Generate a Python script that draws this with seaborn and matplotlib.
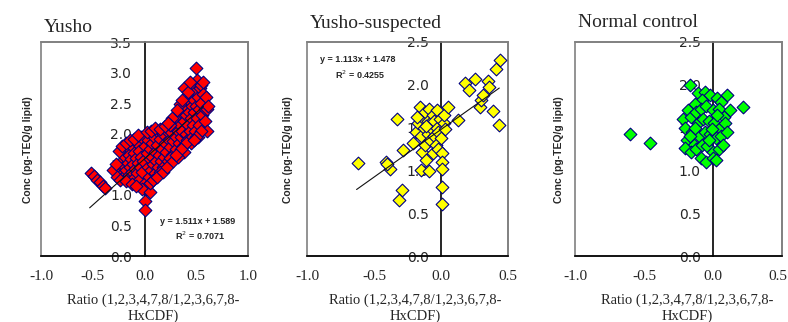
import numpy as np
import pandas as pd
import matplotlib
matplotlib.use("Agg")
import matplotlib.pyplot as plt
import matplotlib.transforms as mtransforms
from matplotlib.patches import Rectangle
import seaborn as sns

# ---------------- data ----------------
titles = ["Yusho", "Yusho-suspected", "Normal control"]

yusho_x = [-0.52, -0.49, -0.46, -0.43, -0.40, -0.38,
           -0.25, -0.24, -0.22, -0.21, -0.20, -0.19, -0.18, -0.17, -0.16, -0.15, -0.15, -0.14, -0.13, -0.12,
           -0.12, -0.11, -0.10, -0.10, -0.09, -0.08, -0.07, -0.07, -0.06, -0.05, -0.05, -0.04, -0.03, -0.03,
           -0.02, -0.01, 0.00, 0.00, 0.00, 0.00, 0.01, 0.02, 0.02, 0.03, 0.03, 0.04, 0.05, 0.05, 0.06, 0.07,
           0.07, 0.08, 0.09, 0.10, 0.10, 0.11, 0.12, 0.12, 0.13, 0.14, 0.15, 0.16, 0.17, 0.18, 0.18, 0.19,
           0.20, 0.21, 0.22, 0.23, 0.24, 0.25, 0.26, 0.27, 0.28, 0.29, 0.30, 0.30, 0.31, 0.32, 0.33, 0.34,
           0.35, 0.35, 0.36, 0.37, 0.38, 0.39, 0.40, 0.40, 0.41, 0.42, 0.42, 0.43, 0.44, 0.45, 0.45, 0.46,
           0.46, 0.47, 0.47, 0.48, 0.48, 0.49, 0.50, 0.50, 0.50, 0.51, 0.51, 0.52, 0.53, 0.53, 0.54, 0.55,
           0.55, 0.56, 0.57, 0.58, 0.60, 0.52, 0.45, 0.38, 0.15, 0.25, -0.02, 0.05,
           0.38, 0.42, 0.44, 0.57, 0.59, 0.61, 0.34, 0.36, 0.31, 0.27, 0.25, 0.58, 0.60, 0.55, 0.50, 0.40,
           0.48, -0.25, -0.22, -0.18, -0.14, -0.10, -0.06, 0.02, 0.06, 0.10, 0.15, 0.20, 0.23,
           -0.30, -0.28, -0.27, -0.24, -0.18, -0.12, -0.08, 0.05, 0.08, 0.12, 0.18, 0.22, 0.28, 0.32,
           0.35, 0.30]
yusho_y = [1.36, 1.31, 1.25, 1.21, 1.15, 1.12,
           1.45, 1.38, 1.55, 1.30, 1.48, 1.62, 1.40, 1.75, 1.52, 1.33, 1.66, 1.45, 1.58, 1.38,
           1.80, 1.50, 1.68, 1.28, 1.42, 1.60, 1.85, 1.35, 1.52, 1.72, 1.25, 1.45, 1.95, 1.62,
           1.38, 1.55, 1.80, 1.20, 0.90, 0.75, 1.10, 1.15, 1.68, 1.45, 1.90, 1.30, 1.58, 1.75, 1.40, 1.85,
           1.62, 1.50, 1.95, 1.35, 1.70, 1.55, 1.82, 2.05, 1.45, 1.65, 1.92, 1.55, 1.75, 2.00, 1.45, 1.62,
           1.85, 1.70, 2.05, 1.55, 1.90, 1.78, 2.02, 1.65, 1.88, 2.10, 1.95, 1.75, 2.25, 2.05, 1.85, 2.15,
           1.95, 2.35, 2.05, 1.80, 2.20, 2.45, 2.00, 2.30, 1.90, 2.55, 2.15, 2.35, 2.05, 2.65, 2.25, 2.45,
           1.95, 2.80, 2.15, 2.55, 2.35, 2.05, 2.70, 2.45, 3.08, 2.88, 2.25, 2.60, 2.40, 2.15, 2.75, 2.80,
           2.50, 2.30, 2.65, 2.40, 2.40, 1.95, 1.85, 1.70, 1.38, 1.60, 1.10, 1.05,
           2.75, 2.68, 2.85, 2.85, 2.60, 2.45, 2.48, 2.55, 2.38, 2.25, 2.15, 2.20, 2.05, 2.05, 1.95, 1.85,
           1.90, 1.72, 1.80, 1.85, 1.90, 1.92, 1.98, 2.02, 2.05, 2.10, 2.08, 2.12, 2.18,
           1.40, 1.50, 1.30, 1.25, 1.22, 1.18, 1.15, 1.20, 1.25, 1.30, 1.38, 1.45, 1.55, 1.62,
           1.75, 1.65]

susp_x = [-0.62, -0.41, -0.38, -0.40, -0.29, -0.31, -0.33, -0.28, -0.21, -0.19, -0.17, -0.16, -0.15,
          -0.15, -0.14, -0.14, -0.13, -0.12, -0.12, -0.11, -0.10, -0.10, -0.09, -0.09, -0.08, -0.08,
          -0.07, -0.06, -0.06, -0.05, -0.05, -0.04, -0.03, -0.03, -0.02, -0.02, -0.01, 0.00, 0.01, 0.01,
          0.01, 0.01, 0.01, 0.02, 0.02, 0.03, 0.05, 0.13, 0.18, 0.21, 0.25, 0.29, 0.30, 0.31, 0.35, 0.36,
          0.39, 0.41, 0.44, 0.435, -0.18, -0.11]
susp_y = [1.09, 1.10, 1.02, 1.07, 0.77, 0.66, 1.60, 1.24, 1.32, 1.45, 1.55, 1.74, 1.40,
          1.00, 1.62, 1.22, 1.50, 1.30, 1.68, 1.12, 1.58, 1.42, 0.99, 1.72, 1.35, 1.55,
          1.48, 1.65, 1.20, 1.40, 1.58, 1.30, 1.50, 1.70, 1.45, 1.25, 1.60, 1.38, 1.20, 1.10,
          1.02, 0.81, 0.61, 1.55, 1.65, 1.48, 1.74, 1.59, 2.02, 1.94, 2.07, 1.74, 1.82, 1.88, 2.04, 1.98,
          1.69, 2.19, 2.29, 1.53, 1.62, 1.52]

ctrl_x = [-0.60, -0.46, 0.22, -0.17, -0.11, -0.06, -0.02, 0.03, 0.10, 0.06, -0.08, -0.13, -0.18, -0.22,
          -0.20, -0.16, -0.12, -0.09, -0.05, 0.00, 0.04, 0.08, 0.12, -0.15, -0.11, -0.07, -0.03, 0.01,
          0.05, 0.09, -0.19, -0.14, -0.10, -0.06, -0.02, 0.02, 0.06, -0.20, -0.16, -0.12, -0.08, -0.04,
          0.00, 0.04, -0.09, -0.05, 0.00, 0.02, -0.03, 0.03, -0.01, -0.13, 0.07, -0.17, 0.10]
ctrl_y = [1.42, 1.32, 1.74, 2.00, 1.90, 1.92, 1.88, 1.85, 1.88, 1.80, 1.82, 1.78, 1.70, 1.60,
          1.50, 1.62, 1.68, 1.72, 1.75, 1.70, 1.72, 1.62, 1.70, 1.45, 1.55, 1.60, 1.58, 1.55,
          1.50, 1.55, 1.35, 1.30, 1.40, 1.45, 1.42, 1.38, 1.40, 1.26, 1.22, 1.25, 1.30, 1.28,
          1.22, 1.25, 1.15, 1.10, 1.15, 1.12, 1.35, 1.65, 1.48, 1.50, 1.30, 1.40, 1.45]

# regression results printed on the chart
fit_slope = [1.511, 1.113, None]
fit_icpt = [1.589, 1.478, None]
fit_r2 = ["0.7071", "0.4255", None]
fit_xrange = [(-0.53, 0.57), (-0.63, 0.435), None]

xlims = [(-1.0, 1.0), (-1.0, 0.5), (-1.0, 0.5)]
ylims = [(0.0, 3.5), (0.0, 2.5), (0.0, 2.5)]
colors = ["#FF0000", "#FFFF00", "#00FF00"]

xs = [yusho_x, susp_x, ctrl_x]
ys = [yusho_y, susp_y, ctrl_y]

# ---------------- layout ----------------
W, H = 788, 322
fig = plt.figure(figsize=(W / 100, H / 100), dpi=100)
sns.set_style("white")
serif = ["Liberation Serif", "DejaVu Serif"]
sans = ["Liberation Sans", "DejaVu Sans"]

boxes = [(41, 248), (307, 508), (575, 782)]  # pixel left/right
top_px, bot_px = 42, 256
ylabel_off = [-13, -19, -16]
title_base = [32, 28, 27]
ann_pos = [((198, 221), (200, 236)), ((358, 60), (360, 75)), None]

for i in range(3):
    l, r = boxes[i]
    ax = fig.add_axes([l / W, 1 - bot_px / H, (r - l) / W, (bot_px - top_px) / H])
    df = pd.DataFrame({"ratio": xs[i], "conc": ys[i]})
    sns.scatterplot(data=df, x="ratio", y="conc", marker="D", color=colors[i],
                    edgecolor="#000080", linewidth=0.8, s=42, ax=ax, zorder=3, legend=False)
    if fit_slope[i] is not None:
        fx = np.array(fit_xrange[i])
        fy = fit_slope[i] * fx + fit_icpt[i]
        ax.plot(fx, fy, color="#111111", lw=0.8, zorder=4)
    ax.set_xlim(*xlims[i])
    ax.set_ylim(*ylims[i])
    ax.set_xticks(np.arange(xlims[i][0], xlims[i][1] + 0.01, 0.5))
    ax.set_yticks(np.arange(ylims[i][0], ylims[i][1] + 0.01, 0.5))
    ax.xaxis.set_major_formatter(matplotlib.ticker.FormatStrFormatter("%.1f"))
    ax.yaxis.set_major_formatter(matplotlib.ticker.FormatStrFormatter("%.1f"))
    ax.tick_params(axis="both", direction="in", length=3.5, width=1, color="black")
    ax.tick_params(axis="x", pad=10)
    ax.tick_params(axis="y", pad=9)
    for lab in ax.get_xticklabels() + ax.get_yticklabels():
        lab.set_fontfamily(serif)
        lab.set_fontsize(11)
    if i == 2:
        last = ax.xaxis.get_major_ticks()[-1].label1
        last.set_transform(last.get_transform() +
                           mtransforms.ScaledTranslation(-4 / 100, 0, fig.dpi_scale_trans))
    ax.spines["left"].set_position(("data", 0))
    ax.spines["left"].set_color("black")
    ax.spines["left"].set_linewidth(1.2)
    ax.spines["bottom"].set_color("black")
    ax.spines["bottom"].set_linewidth(1.2)
    for s in ["top", "right"]:
        ax.spines[s].set_color("#808080")
        ax.spines[s].set_linewidth(1.2)
    ax.add_patch(Rectangle((0, 0), 1, 1, transform=ax.transAxes, fill=False,
                           edgecolor="#808080", lw=1.2, clip_on=False, zorder=0))
    ax.set_xlabel("Ratio (1,2,3,4,7,8/1,2,3,6,7,8-\nHxCDF)", fontfamily=serif, fontsize=10.5,
                  linespacing=1.25)
    ax.xaxis.set_label_coords(0.54, -0.175)
    ax.xaxis.label.set_verticalalignment("top")
    ax.set_ylabel("")
    fig.text((l + ylabel_off[i]) / W, 1 - 150 / H, "Conc (pg-TEQ/g lipid)", rotation=90,
             ha="center", va="center", fontfamily=sans, fontsize=7.5, fontweight="bold")
    fig.text((l + 3) / W, 1 - title_base[i] / H, titles[i], ha="left", va="baseline",
             fontfamily=serif, fontsize=14)
    if ann_pos[i] is not None:
        (ax1, ay1), (ax2, ay2) = ann_pos[i]
        fig.text(ax1 / W, 1 - ay1 / H, f"y = {fit_slope[i]}x + {fit_icpt[i]}", ha="center",
                 va="center", fontfamily=sans, fontsize=6.5, fontweight="bold")
        fig.text(ax2 / W, 1 - ay2 / H, f"R$^2$ = {fit_r2[i]}", ha="center",
                 va="center", fontfamily=sans, fontsize=6.5, fontweight="bold")

fig.savefig("out.png", dpi=100)
